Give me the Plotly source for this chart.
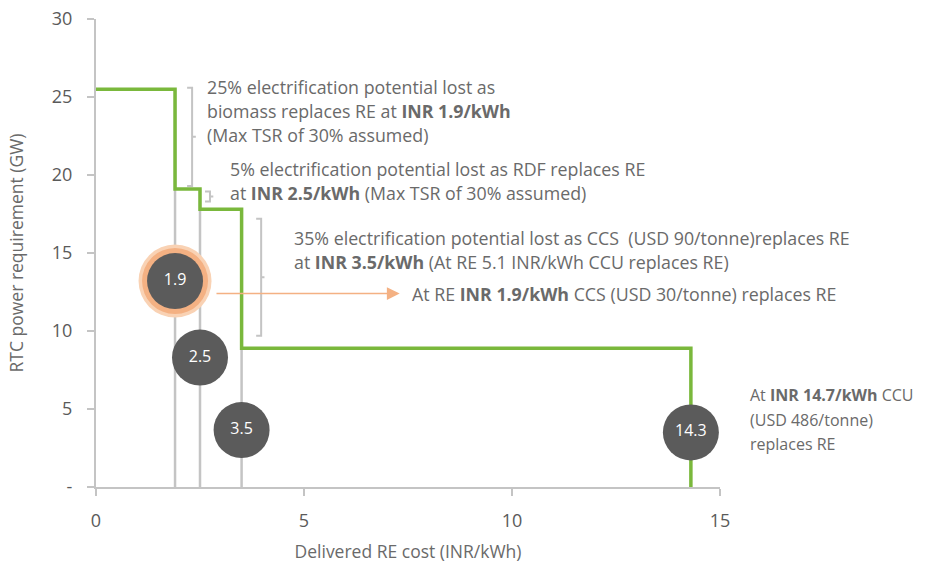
import plotly.graph_objects as go

# Step curve: RTC power requirement vs delivered RE cost
step_cost = [0, 1.9, 2.5, 3.5, 14.3]
step_gw = [25.5, 19.1, 17.8, 8.9, 0]

# Threshold markers (cost at which an alternative replaces RE)
marker_cost = [1.9, 2.5, 3.5, 14.3]
marker_gw = [13.2, 8.3, 3.65, 3.5]
marker_text = ["1.9", "2.5", "3.5", "14.3"]

x_ticks = [0, 5, 10, 15]
y_ticks = [0, 5, 10, 15, 20, 25, 30]
y_ticktext = ["-", "5", "10", "15", "20", "25", "30"]

note1 = ["25% electrification potential lost as",
         "biomass replaces RE at <b>INR 1.9/kWh</b>",
         "(Max TSR of 30% assumed)"]
note2 = ["5% electrification potential lost as RDF replaces RE",
         "at <b>INR 2.5/kWh</b> (Max TSR of 30% assumed)"]
note3 = ["35% electrification potential lost as CCS  (USD 90/tonne)replaces RE",
         "at <b>INR 3.5/kWh</b> (At RE 5.1 INR/kWh CCU replaces RE)"]
note_arrow = "At RE <b>INR 1.9/kWh</b> CCS (USD 30/tonne) replaces RE"
note5 = ["At <b>INR 14.7/kWh</b> CCU", "(USD 486/tonne)", "replaces RE"]

GREEN = "#7ab83c"
GREY = "#c4c4c4"
DARK = "#5b5b5b"
ORANGE = "#f4b183"
TEXT = "#6a6a6a"
FONT = "Open Sans"
NOTE_SIZE = 17.8

fig = go.Figure()

# Grey drop lines under each step
for i in range(1, 4):
    fig.add_trace(go.Scatter(
        x=[step_cost[i], step_cost[i]], y=[0, step_gw[i - 1]],
        mode="lines", line=dict(color=GREY, width=2.5),
        hoverinfo="skip", showlegend=False))

# Green step curve
fig.add_trace(go.Scatter(
    x=step_cost, y=step_gw, mode="lines", line_shape="hv",
    line=dict(color=GREEN, width=3.5), hoverinfo="skip", showlegend=False))

# Orange halo around the first marker
fig.add_trace(go.Scatter(
    x=marker_cost[:1], y=marker_gw[:1], mode="markers",
    marker=dict(size=73, color="#f9d2b4", line=dict(width=0)),
    hoverinfo="skip", showlegend=False))
fig.add_trace(go.Scatter(
    x=marker_cost[:1], y=marker_gw[:1], mode="markers",
    marker=dict(size=66, color=ORANGE, line=dict(width=0)),
    hoverinfo="skip", showlegend=False))

# Dark threshold markers
fig.add_trace(go.Scatter(
    x=marker_cost, y=marker_gw, mode="markers+text",
    marker=dict(size=56, color=DARK, line=dict(width=0)),
    text=marker_text, textposition="middle center",
    textfont=dict(color="white", size=16, family=FONT),
    cliponaxis=False, hoverinfo="skip", showlegend=False))

# Brackets
def bracket(x0, x1, xm, y0, y1):
    ym = (y0 + y1) / 2
    return (f"M {x0} {y0} L {x1} {y0} L {x1} {y1} L {x0} {y1} "
            f"M {x1} {ym} L {xm} {ym}")

shapes = [
    dict(type="path", xref="x", yref="y",
         path=bracket(2.19, 2.31, 2.40, 25.6, 19.3),
         line=dict(color=GREY, width=2)),
    dict(type="path", xref="x", yref="y",
         path=bracket(2.62, 2.74, 2.82, 18.95, 18.3),
         line=dict(color=GREY, width=2)),
    dict(type="path", xref="x", yref="y",
         path=bracket(3.85, 3.97, 4.05, 17.2, 9.7),
         line=dict(color=GREY, width=2)),
]

annotations = []

def add_lines(lines, x, ys, size=NOTE_SIZE):
    # text placed in paper coordinates so it can sit beside the plot area
    for t, y in zip(lines, ys):
        annotations.append(dict(
            x=x, y=y, xref="paper", yref="paper", text=t, showarrow=False,
            xanchor="left", yanchor="middle",
            font=dict(color=TEXT, size=size, family=FONT)))

add_lines(note1, 0.175, [0.855, 0.803, 0.752])
add_lines(note2, 0.212, [0.679, 0.628])
add_lines(note3, 0.314, [0.532, 0.481])
add_lines([note_arrow], 0.503, [0.412])
add_lines(note5, 1.045, [0.197, 0.143, 0.092], size=16)

# Orange arrow from the first marker
annotations.append(dict(
    x=7.3, y=12.4, ax=2.86, ay=12.4, xref="x", yref="y",
    axref="x", ayref="y", text="", showarrow=True,
    arrowhead=2, arrowsize=1.6, arrowwidth=1.6, arrowcolor=ORANGE))

fig.update_layout(
    width=930, height=563,
    margin=dict(l=96, r=210, t=19, b=76),
    plot_bgcolor="white", paper_bgcolor="white",
    font=dict(family=FONT, color=TEXT, size=16),
    shapes=shapes, annotations=annotations,
    xaxis=dict(
        range=[0, 15], tickvals=x_ticks, showgrid=False, zeroline=False,
        showline=True, linecolor=GREY, linewidth=2, automargin=False,
        ticks="outside", ticklen=7, tickcolor=GREY, tickwidth=2,
        ticklabelstandoff=9,
        tickfont=dict(size=18, color="#5a5a5a", family=FONT),
        title=dict(text="Delivered RE cost (INR/kWh)",
                   font=dict(size=17.5, color=TEXT, family=FONT), standoff=16)),
    yaxis=dict(
        range=[0, 30], tickvals=y_ticks, ticktext=y_ticktext,
        showgrid=False, zeroline=False, automargin=False,
        showline=True, linecolor=GREY, linewidth=2,
        ticks="outside", ticklen=7, tickcolor=GREY, tickwidth=2,
        ticklabelstandoff=11,
        tickfont=dict(size=18, color="#5a5a5a", family=FONT),
        title=dict(text="RTC power requirement (GW)",
                   font=dict(size=17.5, color=TEXT, family=FONT), standoff=24)),
)

fig.write_html("out.html")
